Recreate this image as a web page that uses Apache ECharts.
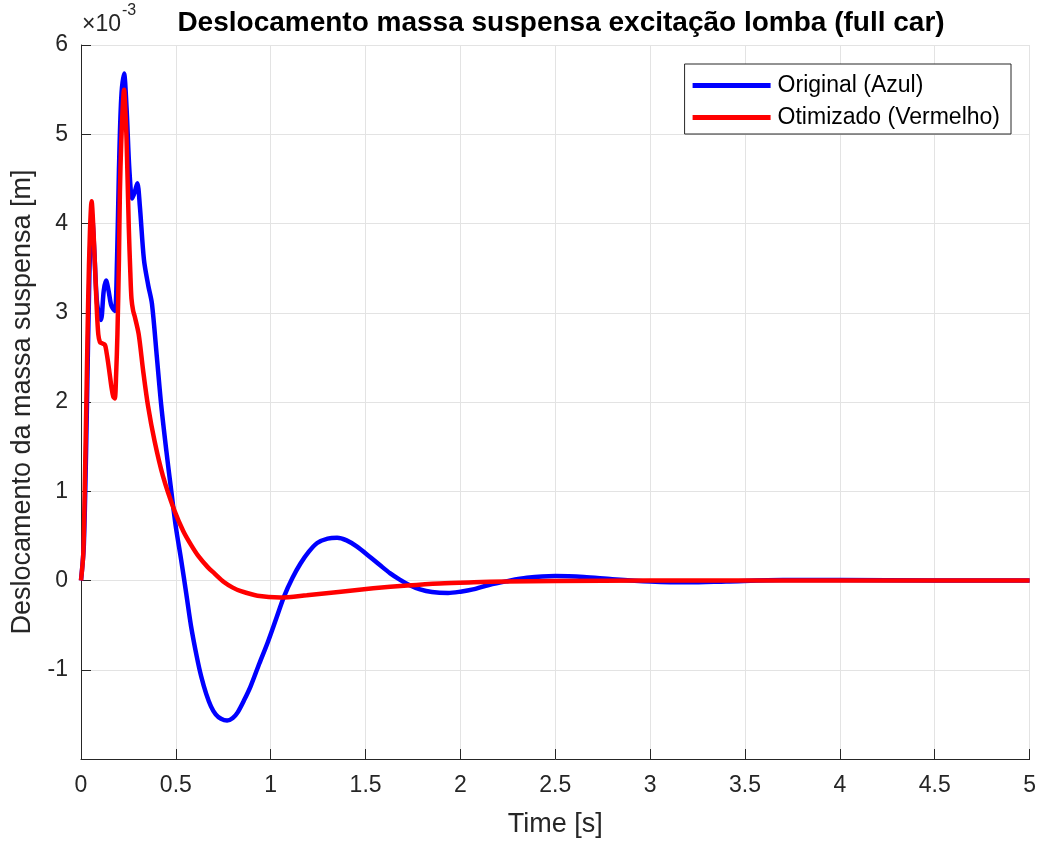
<!DOCTYPE html>
<html>
<head>
<meta charset="utf-8">
<script src="https://cdn.jsdelivr.net/npm/echarts@6/dist/echarts.min.js"></script>
<style>
  html, body { margin: 0; padding: 0; background: #fff; }
  #chart { width: 1039px; height: 843px; }
</style>
</head>
<body>
<div id="chart"></div>
<script>
// dados (y em 1e-3 m)
var tOriginal = [0, 0.015, 0.03, 0.045, 0.058, 0.07, 0.085, 0.105, 0.12, 0.132, 0.145, 0.16, 0.178, 0.19, 0.2, 0.212, 0.227, 0.24, 0.255, 0.27, 0.283, 0.297, 0.31, 0.332, 0.355, 0.374, 0.4, 0.423, 0.45, 0.476, 0.5, 0.528, 0.555, 0.58, 0.61, 0.633, 0.66, 0.685, 0.71, 0.738, 0.77, 0.8, 0.825, 0.86, 0.895, 0.94, 0.983, 1.03, 1.07, 1.115, 1.157, 1.2, 1.245, 1.3, 1.35, 1.4, 1.455, 1.52, 1.577, 1.63, 1.68, 1.73, 1.787, 1.85, 1.935, 2.0, 2.066, 2.15, 2.24, 2.35, 2.5, 2.65, 2.8, 3.0, 3.2, 3.4, 3.7, 4.0, 4.5, 5.0];
var yOriginal = [0, 0.4, 1.8, 3.5, 4.1, 3.7, 3.1, 2.92, 3.25, 3.36, 3.25, 3.08, 3.02, 3.6, 4.6, 5.4, 5.68, 5.3, 4.6, 4.28, 4.35, 4.45, 4.2, 3.59, 3.3, 3.1, 2.5, 1.96, 1.45, 1.0, 0.6, 0.23, -0.15, -0.51, -0.85, -1.07, -1.27, -1.41, -1.5, -1.55, -1.57, -1.54, -1.48, -1.34, -1.18, -0.93, -0.70, -0.42, -0.18, 0.03, 0.19, 0.32, 0.42, 0.47, 0.48, 0.45, 0.38, 0.27, 0.17, 0.08, 0.01, -0.05, -0.10, -0.13, -0.14, -0.125, -0.10, -0.05, -0.01, 0.03, 0.05, 0.04, 0.015, -0.01, -0.02, -0.01, 0.005, 0.005, 0, 0];

var tOtimizado = [0, 0.012, 0.021, 0.03, 0.038, 0.047, 0.056, 0.065, 0.073, 0.082, 0.091, 0.1, 0.108, 0.126, 0.135, 0.143, 0.152, 0.161, 0.17, 0.178, 0.185, 0.192, 0.2, 0.205, 0.212, 0.22, 0.227, 0.233, 0.24, 0.252, 0.26, 0.266, 0.275, 0.283, 0.304, 0.327, 0.353, 0.388, 0.432, 0.493, 0.54, 0.58, 0.62, 0.668, 0.703, 0.755, 0.8, 0.843, 0.93, 1.05, 1.19, 1.37, 1.54, 1.72, 1.89, 2.07, 2.24, 2.5, 3.0, 5.0];
var yOtimizado = [0, 0.3, 1.17, 2.2, 3.16, 3.9, 4.25, 3.95, 3.55, 3.1, 2.76, 2.67, 2.66, 2.64, 2.55, 2.44, 2.3, 2.16, 2.06, 2.04, 2.3, 2.76, 3.6, 4.35, 4.9, 5.3, 5.5, 5.3, 4.95, 3.95, 3.45, 3.16, 3.02, 2.96, 2.76, 2.36, 1.96, 1.56, 1.17, 0.78, 0.55, 0.4, 0.27, 0.15, 0.08, -0.02, -0.08, -0.12, -0.17, -0.19, -0.165, -0.125, -0.088, -0.056, -0.033, -0.02, -0.011, -0.005, 0, 0];

var xTicks = [0, 0.5, 1, 1.5, 2, 2.5, 3, 3.5, 4, 4.5, 5];
var yTicks = [-2, -1, 0, 1, 2, 3, 4, 5, 6];

function pares(t, y) {
  var out = [];
  for (var i = 0; i < t.length; i++) out.push([t[i], y[i]]);
  return out;
}

var fonte = '"Liberation Sans", Arial, Helvetica, sans-serif';
var corEixo = '#262626';

var myChart = echarts.init(document.getElementById('chart'));

var option = {
  backgroundColor: '#fff',
  animation: false,
  title: {
    text: 'Deslocamento massa suspensa excitação lomba (full car)',
    left: 556,
    textAlign: 'center',
    top: 4,
    textStyle: { fontFamily: fonte, fontSize: 28, fontWeight: 'bold', color: '#000' }
  },
  legend: {
    orient: 'vertical',
    right: 28,
    top: 64,
    backgroundColor: '#fff',
    borderColor: corEixo,
    borderWidth: 1,
    borderRadius: 0,
    padding: [10, 11, 5, 8],
    itemWidth: 78,
    itemHeight: 5,
    itemGap: 9,
    icon: 'rect',
    textStyle: { fontFamily: fonte, fontSize: 23, color: '#000', padding: [0, 0, 0, 2] },
    data: ['Original (Azul)', 'Otimizado (Vermelho)']
  },
  graphic: [{
    type: 'text',
    left: 82,
    top: 3,
    style: {
      text: '{a|×10}{b|-3}',
      rich: {
        a: { fontFamily: fonte, fontSize: 23, fill: corEixo, padding: [10, 0, 0, 0] },
        b: { fontFamily: fonte, fontSize: 16, fill: corEixo, verticalAlign: 'top', padding: [0, 0, 14, 1] }
      }
    }
  }],
  grid: { left: 81, right: 6, top: 45, bottom: 81, containLabel: false },
  xAxis: {
    type: 'value',
    min: 0,
    max: 5,
    interval: 0.5,
    name: 'Time [s]',
    nameLocation: 'middle',
    nameGap: 52,
    nameTextStyle: { fontFamily: fonte, fontSize: 27, color: corEixo },
    axisLine: { show: true, onZero: false, lineStyle: { color: corEixo, width: 1 } },
    axisTick: { show: true, inside: true, length: 10, lineStyle: { color: corEixo } },
    axisLabel: {
      fontFamily: fonte, fontSize: 23, color: corEixo, margin: 15,
      formatter: function (v) { return xTicks.indexOf(v) >= 0 ? String(v) : ''; }
    },
    splitLine: { show: true, lineStyle: { color: '#e3e3e3', width: 1 } }
  },
  yAxis: {
    type: 'value',
    min: -2,
    max: 6,
    interval: 1,
    name: 'Deslocamento da massa suspensa [m]',
    nameLocation: 'middle',
    nameGap: 45,
    nameTextStyle: { fontFamily: fonte, fontSize: 27, color: corEixo },
    axisLine: { show: true, lineStyle: { color: corEixo, width: 1 } },
    axisTick: { show: true, inside: true, length: 10, lineStyle: { color: corEixo } },
    axisLabel: {
      fontFamily: fonte, fontSize: 23, color: corEixo, margin: 13,
      formatter: function (v) { return (v === yTicks[0]) ? '' : String(v); }
    },
    splitLine: { show: true, lineStyle: { color: '#e3e3e3', width: 1 } }
  },
  series: [
    {
      name: 'Original (Azul)',
      type: 'line',
      data: pares(tOriginal, yOriginal),
      showSymbol: false,
      smooth: 0.3,
      color: '#0000ff',
      lineStyle: { color: '#0000ff', width: 4.5 },
      z: 2
    },
    {
      name: 'Otimizado (Vermelho)',
      type: 'line',
      data: pares(tOtimizado, yOtimizado),
      showSymbol: false,
      smooth: 0.3,
      color: '#ff0000',
      lineStyle: { color: '#ff0000', width: 4.5 },
      z: 3
    }
  ]
};

myChart.setOption(option);
</script>
</body>
</html>
